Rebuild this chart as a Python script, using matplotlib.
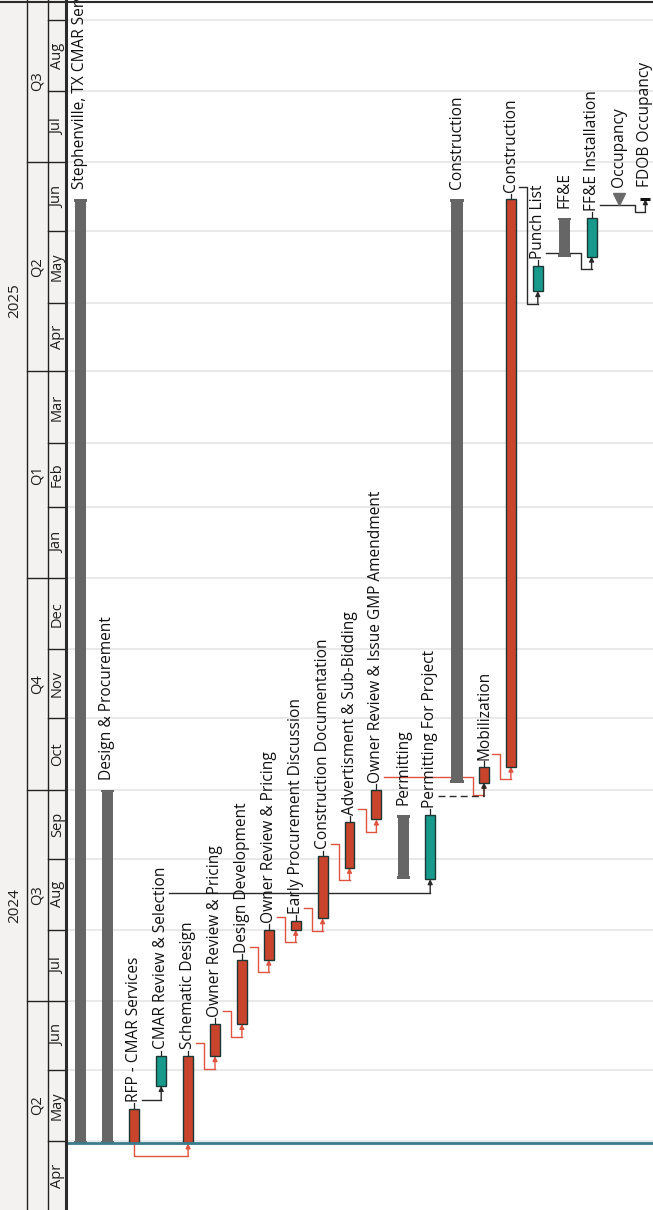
import datetime as dt

import matplotlib
matplotlib.use("Agg")
import matplotlib.dates as mdates
import matplotlib.pyplot as plt
from matplotlib.lines import Line2D
from matplotlib.patches import Rectangle

plt.rcParams["font.family"] = ["Open Sans", "DejaVu Sans"]

D = dt.date

# Activities, one per column, left to right
names = [
    "Stephenville, TX CMAR Services",
    "Design & Procurement",
    "RFP - CMAR Services",
    "CMAR Review & Selection",
    "Schematic Design",
    "Owner Review & Pricing",
    "Design Development",
    "Owner Review & Pricing",
    "Early Procurement Discussion",
    "Construction Documentation",
    "Advertisment & Sub-Bidding",
    "Owner Review & Issue GMP Amendment",
    "Permitting",
    "Permitting For Project",
    "Construction",
    "Mobilization",
    "Construction",
    "Punch List",
    "FF&E",
    "FF&E Installation",
    "Occupancy",
    "FDOB Occupancy",
]
kinds = [
    "summary", "summary", "critical", "normal", "critical", "critical",
    "critical", "critical", "critical", "critical", "critical", "critical",
    "summary", "normal", "summary", "critical", "critical", "normal",
    "summary", "normal", "summary_ms", "milestone",
]
starts = [
    D(2024, 4, 30), D(2024, 4, 30), D(2024, 4, 30), D(2024, 5, 25),
    D(2024, 4, 30), D(2024, 6, 7), D(2024, 6, 21), D(2024, 7, 19),
    D(2024, 8, 1), D(2024, 8, 6), D(2024, 8, 28), D(2024, 9, 18),
    D(2024, 8, 23), D(2024, 8, 23), D(2024, 10, 4), D(2024, 10, 4),
    D(2024, 10, 11), D(2025, 5, 6), D(2025, 5, 21), D(2025, 5, 21),
    D(2025, 6, 15), D(2025, 6, 15),
]
finishes = [
    D(2025, 6, 15), D(2024, 10, 1), D(2024, 5, 15), D(2024, 6, 7),
    D(2024, 6, 7), D(2024, 6, 21), D(2024, 7, 19), D(2024, 8, 1),
    D(2024, 8, 5), D(2024, 9, 2), D(2024, 9, 17), D(2024, 10, 1),
    D(2024, 9, 20), D(2024, 9, 20), D(2025, 6, 15), D(2024, 10, 11),
    D(2025, 6, 15), D(2025, 5, 17), D(2025, 6, 7), D(2025, 6, 7),
    D(2025, 6, 15), D(2025, 6, 15),
]

# Relationships: predecessor, successor, type, line colour, line style
links = [
    (2, 4, "SS", "red", "-"),
    (2, 3, "FS", "black", "-"),
    (4, 5, "FS", "red", "-"),
    (5, 6, "FS", "red", "-"),
    (6, 7, "FS", "red", "-"),
    (7, 8, "FS", "red", "-"),
    (8, 9, "FS", "red", "-"),
    (9, 10, "FS", "red", "-"),
    (10, 11, "FS", "red", "-"),
    (11, 15, "FS", "red", "-"),
    (3, 13, "FS", "black", "-"),
    (13, 15, "FS", "black", "--"),
    (15, 16, "FS", "red", "-"),
    (16, 17, "FS", "black", "-"),
    (17, 19, "FS", "black", "-"),
    (19, 21, "FS", "black", "-"),
]

data_date = D(2024, 4, 30)
view_start = D(2024, 4, 1)
view_days = 526.7

BAR_COLORS = {"summary": "#666666", "critical": "#c8442c", "normal": "#17998b"}
LINK_COLORS = {"red": "#e0543f", "black": "#2a2a2a"}
GRID = "#e7e7e7"
HEADER_BG = "#f4f2f0"
INK = "#1e1e1e"

W, H = 653, 1210
HEADER_W = 66


def num(d):
    return mdates.date2num(d)


y_lo = num(view_start)
y_hi = y_lo + view_days

fig = plt.figure(figsize=(W / 100, H / 100), dpi=100)
fig.patch.set_facecolor("white")

# ---------------- timescale header (left strip) ----------------
hdr = fig.add_axes([0, 0, HEADER_W / W, 1])
hdr.set_xlim(0, HEADER_W)
hdr.set_ylim(y_lo, y_hi)
hdr.axis("off")
hdr.add_patch(Rectangle((0, y_lo), HEADER_W, view_days, color=HEADER_BG, zorder=0))
hdr.plot([27, 27], [y_lo, y_hi], color="#222222", lw=1)
hdr.plot([48, 48], [y_lo, y_hi], color="#222222", lw=1)


def month_iter(first, last):
    y, m = first.year, first.month
    while (y, m) <= (last.year, last.month):
        yield D(y, m, 1)
        y, m = (y + 1, 1) if m == 12 else (y, m + 1)


def visible_mid(a, b):
    a, b = max(a, y_lo), min(b, y_hi)
    return (a + b) / 2, b - a


end_view = mdates.num2date(y_hi).date()
months = list(month_iter(view_start, end_view))
for m in months:
    m0 = num(m)
    nxt = D(m.year + (m.month == 12), m.month % 12 + 1, 1)
    m1 = num(nxt)
    if m0 > y_lo:
        left = 27 if m.month in (1, 4, 7, 10) else 48
        hdr.plot([left, HEADER_W], [m0, m0], color="#222222", lw=1)
    mid, span = visible_mid(m0, m1)
    if span > 15:
        hdr.text(57.5, mid, m.strftime("%b"), rotation=90, ha="center",
                 va="center", fontsize=10.5, color=INK)

quarters = [m for m in months if m.month in (1, 4, 7, 10)]
for q in quarters:
    q0 = num(q)
    qe = D(q.year + (q.month == 10), (q.month + 2) % 12 + 1, 1)
    mid, span = visible_mid(q0, num(qe))
    hdr.text(37.5, mid, f"Q{(q.month - 1) // 3 + 1}", rotation=90,
             ha="center", va="center", fontsize=10.5, color=INK)

for yr in (2024, 2025):
    mid, span = visible_mid(num(D(yr, 1, 1)), num(D(yr + 1, 1, 1)))
    hdr.text(15, mid - 5, str(yr), rotation=90, ha="center", va="center",
             fontsize=11, color=INK)

# ---------------- gantt area ----------------
ROW0, PITCH = 80.5, 26.9
ax = fig.add_axes([HEADER_W / W, 0, (W - HEADER_W) / W, 1])
ax.set_xlim((HEADER_W - ROW0) / PITCH, (W - ROW0) / PITCH)
ax.set_ylim(y_lo, y_hi)
ax.axis("off")

for m in months:
    if num(m) > y_lo:
        ax.axhline(num(m), color=GRID, lw=1.3, zorder=0)
ax.axhline(num(data_date), color="#3a7b8c", lw=2, zorder=4)


def draw_link(i, j, kind, colour, style):
    c = LINK_COLORS[colour]
    f, s = num(finishes[i]), num(starts[j])
    if kind == "SS":
        s_i = num(starts[i])
        lvl = s_i - 5.5
        pts = [(i, s_i), (i, lvl), (j, lvl)]
    elif s - f > 8:
        lvl = s - 6
        pts = [(i + 0.3, lvl), (j, lvl)]
    else:
        up, down = f + 5.5, s - 5.5
        pts = [(i + 0.3, up), (j - 0.4, up), (j - 0.4, down), (j, down)]
    xs, ys = zip(*pts)
    ax.plot(xs, ys, color=c, lw=1, ls=style, dashes=(5, 3) if style == "--" else (None, None),
            zorder=1)
    ax.annotate("", xy=(j, s), xytext=pts[-1],
                arrowprops=dict(arrowstyle="-|>", color=c, lw=1, shrinkA=0,
                                shrinkB=0, mutation_scale=7), zorder=1)


for i, j, kind, colour, style in links:
    draw_link(i, j, kind, colour, style)

for k, (name, kind, s, f) in enumerate(zip(names, kinds, starts, finishes)):
    s_n, f_n = num(s), num(f)
    if kind == "summary":
        w = 0.42
        ax.add_patch(Rectangle((k - w / 2, s_n), w, f_n - s_n,
                               facecolor=BAR_COLORS[kind], edgecolor="none", zorder=3))
        for end in (s_n, f_n - 1.2):
            ax.add_patch(Rectangle((k - 0.25, end), 0.5, 1.2,
                                   facecolor=BAR_COLORS[kind], edgecolor="none", zorder=3))
        off = 7
    elif kind == "summary_ms":
        ax.plot(k, f_n, marker="v", ms=9, color="#6a6a6a", zorder=3)
        off = 9
    elif kind == "milestone":
        ax.plot(k, f_n, marker="_", ms=7, mew=2.2, color="#111111", zorder=3)
        off = 9
    else:
        w = 0.37
        ax.plot([k, k], [f_n, f_n + 2.4], color="#222222", lw=0.9, zorder=2)
        ax.add_patch(Rectangle((k - w / 2, s_n), w, f_n - s_n,
                               facecolor=BAR_COLORS[kind], edgecolor="#1c3733",
                               lw=1, zorder=3))
        off = 5
    ax.annotate(name, xy=(k, f_n), xytext=(0, off), textcoords="offset points",
                rotation=90, ha="center", va="bottom", fontsize=11.2,
                color="#111111", annotation_clip=False, zorder=5)

# frame lines
fig.add_artist(Line2D([0, 1], [1 - 1.5 / H, 1 - 1.5 / H], transform=fig.transFigure,
                      color="#2b2b2b", lw=1.5))
fig.add_artist(Line2D([HEADER_W / W, HEADER_W / W], [0, 1], transform=fig.transFigure,
                      color="#2b2b2b", lw=2.2))

fig.savefig("out.png", dpi=100)
